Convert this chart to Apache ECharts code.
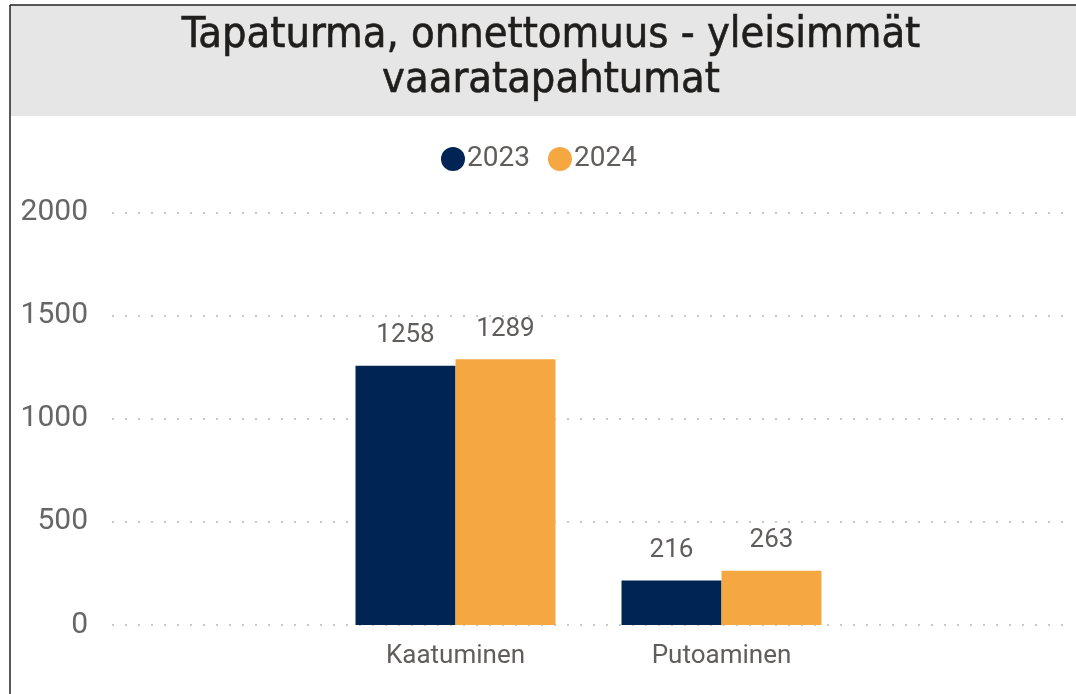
<!DOCTYPE html>
<html>
<head>
<meta charset="utf-8">
<script src="https://cdn.jsdelivr.net/npm/echarts@6/dist/echarts.min.js"></script>
<style>
  html, body { margin: 0; padding: 0; background: #fff; }
  #main { width: 1076px; height: 694px; }
</style>
</head>
<body>
<div id="main"></div>
<script>
// data
const categories = ['Kaatuminen', 'Putoaminen'];
const years = ['2023', '2024'];
const values2023 = [1258, 216];
const values2024 = [1289, 263];
const yTicks = { min: 0, max: 2000, interval: 500 };

const navy = '#002554';
const orange = '#f5a742';
const textGray = '#605e5c';

const labelStyle = {
  show: true,
  position: 'top',
  distance: 17,
  color: textGray,
  fontFamily: 'Roboto',
  fontSize: 26
};

let option = {
  animation: false,
  backgroundColor: '#ffffff',
  graphic: [
    { type: 'rect', shape: { x: 10, y: 5, width: 1066, height: 111 }, style: { fill: '#e6e6e6' }, z: -1 },
    { type: 'line', shape: { x1: 10, y1: 5, x2: 1076, y2: 5 }, style: { stroke: '#222', lineWidth: 1.5 } },
    { type: 'line', shape: { x1: 10, y1: 5, x2: 10, y2: 694 }, style: { stroke: '#222', lineWidth: 1.5 } }
  ],
  title: {
    text: 'Tapaturma, onnettomuus - yleisimmät\nvaaratapahtumat',
    left: 546,
    textAlign: 'center',
    top: 8,
    textStyle: {
      fontFamily: 'DejaVu Sans Condensed',
      fontWeight: 'normal',
      fontSize: 43,
      lineHeight: 45,
      color: '#1f1e1d',
      textBorderColor: '#1f1e1d',
      textBorderWidth: 0.6
    }
  },
  legend: {
    data: years,
    left: 436,
    top: 140,
    icon: 'circle',
    itemWidth: 24,
    itemHeight: 24,
    itemGap: 18,
    textStyle: { color: textGray, fontFamily: 'Roboto', fontSize: 28, padding: [0, 0, 0, -3] }
  },
  grid: [
    { left: 112, right: 11, top: 212.7, bottom: 69 },
    { left: 322.5, right: 221.5, top: 212.7, bottom: 69 }
  ],
  xAxis: [
    { type: 'category', gridIndex: 0, data: categories, show: false },
    {
      type: 'category',
      gridIndex: 1,
      data: categories,
      axisLine: { show: false },
      axisTick: { show: false },
      axisLabel: { margin: 18, color: textGray, fontFamily: 'Roboto', fontSize: 26 }
    }
  ],
  yAxis: [
    {
      type: 'value',
      gridIndex: 0,
      min: yTicks.min,
      max: yTicks.max,
      interval: yTicks.interval,
      axisLabel: {
        margin: 24,
        color: '#666666',
        fontFamily: 'Roboto',
        fontSize: 30,
        formatter: function (v) { return String(v); }
      },
      splitLine: { lineStyle: { color: '#c8c8c8', width: 2, type: [2, 11] } }
    },
    {
      type: 'value',
      gridIndex: 1,
      min: yTicks.min,
      max: yTicks.max,
      interval: yTicks.interval,
      show: false,
      splitLine: { show: false }
    }
  ],
  series: [
    {
      name: years[0],
      type: 'bar',
      xAxisIndex: 1,
      yAxisIndex: 1,
      data: values2023,
      barWidth: 100,
      barGap: 0,
      itemStyle: { color: navy },
      label: labelStyle
    },
    {
      name: years[1],
      type: 'bar',
      xAxisIndex: 1,
      yAxisIndex: 1,
      data: values2024,
      barWidth: 100,
      barGap: 0,
      itemStyle: { color: orange },
      label: labelStyle
    }
  ]
};

let myChart = echarts.init(document.getElementById('main'));
myChart.setOption(option);
</script>
</body>
</html>
